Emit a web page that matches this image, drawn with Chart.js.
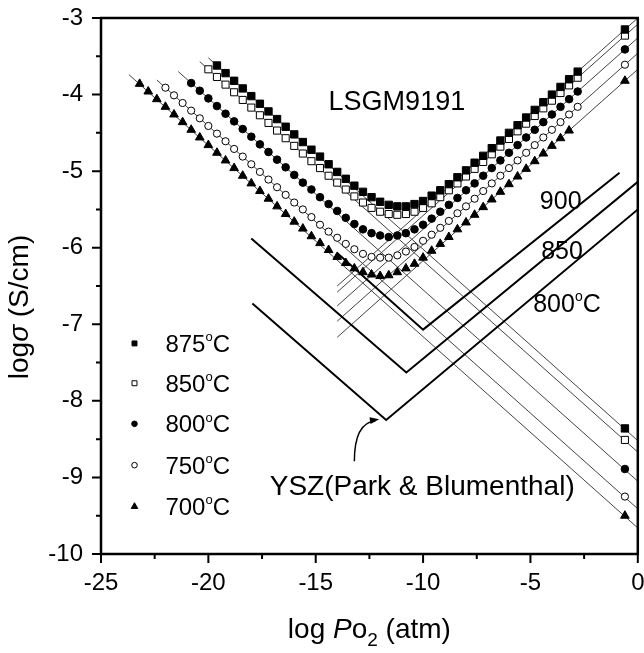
<!DOCTYPE html>
<html>
<head>
<meta charset="utf-8">
<script src="https://cdn.jsdelivr.net/npm/chart.js@4.4.1/dist/chart.umd.min.js"></script>
<style>
  body { margin: 0; background: #fff; }
  #wrap { width: 644px; height: 653px; }
</style>
</head>
<body>
<div id="wrap"><canvas id="chart1" width="644" height="653"></canvas></div>
<script>
// log Po2 grid shared by the LSGM9191 measurements
const logPo2 = [-23.2,-22.8,-22.4,-22.0,-21.6,-21.2,-20.8,-20.4,-20.0,
  -19.6,-19.2,-18.8,-18.4,-18.0,-17.6,-17.2,-16.8,-16.4,-16.0,
  -15.6,-15.2,-14.8,-14.4,-14.0,-13.6,-13.2,-12.8,-12.4,-12.0,
  -11.6,-11.2,-10.8,-10.4,-10.0,-9.6,-9.2,-8.8,-8.4,-8.0,
  -7.6,-7.2,-6.8,-6.4,-6.0,-5.6,-5.2,-4.8,-4.4,-4.0,
  -3.6,-3.2,-2.8];

// log sigma (S/cm), null = no measurement
const s875 = [null,null,null,null,null,null,null,null,null,
  -3.62,-3.72,-3.82,-3.92,-4.02,-4.12,-4.22,-4.32,-4.42,-4.52,
  -4.62,-4.72,-4.81,-4.91,-5.01,-5.10,-5.19,-5.27,-5.34,-5.40,
  -5.44,-5.46,-5.46,-5.43,-5.39,-5.32,-5.25,-5.17,-5.08,-4.99,
  -4.89,-4.80,-4.70,-4.60,-4.50,-4.40,-4.30,-4.20,-4.10,-4.00,
  -3.90,-3.80,-3.70];
const s850 = [null,null,null,null,null,null,null,null,-3.67,
  -3.77,-3.87,-3.97,-4.07,-4.17,-4.27,-4.37,-4.47,-4.57,-4.67,
  -4.77,-4.87,-4.96,-5.06,-5.15,-5.24,-5.33,-5.41,-5.48,-5.53,
  -5.56,-5.57,-5.56,-5.53,-5.48,-5.42,-5.34,-5.25,-5.16,-5.07,
  -4.97,-4.88,-4.78,-4.68,-4.58,-4.48,-4.38,-4.28,-4.18,-4.08,
  -3.98,-3.88,-3.78];
const s800 = [null,null,null,null,null,null,-3.85,-3.95,-4.05,
  -4.15,-4.25,-4.35,-4.45,-4.55,-4.65,-4.75,-4.85,-4.95,-5.05,
  -5.15,-5.24,-5.34,-5.43,-5.52,-5.61,-5.69,-5.76,-5.81,-5.84,
  -5.86,-5.84,-5.81,-5.76,-5.70,-5.62,-5.53,-5.44,-5.35,-5.25,
  -5.16,-5.06,-4.96,-4.86,-4.76,-4.66,-4.56,-4.46,-4.36,-4.26,
  -4.16,-4.06,-3.96];
const s750 = [null,null,null,-3.91,-4.01,-4.11,-4.21,-4.31,-4.41,
  -4.51,-4.61,-4.71,-4.81,-4.91,-5.01,-5.11,-5.21,-5.31,-5.41,
  -5.50,-5.60,-5.70,-5.79,-5.87,-5.95,-6.02,-6.08,-6.12,-6.13,
  -6.13,-6.10,-6.05,-5.99,-5.91,-5.83,-5.74,-5.65,-5.55,-5.46,
  -5.36,-5.26,-5.16,-5.06,-4.96,-4.86,-4.76,-4.66,-4.56,-4.46,
  -4.36,-4.26,-4.16];
const s700 = [-3.86,-3.96,-4.06,-4.16,-4.26,-4.36,-4.46,-4.56,-4.66,
  -4.76,-4.86,-4.96,-5.06,-5.16,-5.26,-5.36,-5.46,-5.56,-5.66,
  -5.75,-5.85,-5.94,-6.03,-6.12,-6.20,-6.27,-6.32,-6.35,-6.37,
  -6.36,-6.32,-6.27,-6.21,-6.13,-6.04,-5.95,-5.86,-5.76,-5.67,
  -5.57,-5.47,-5.37,-5.27,-5.17,-5.07,-4.97,-4.87,-4.77,-4.67,
  -4.57,-4.47,null];

const temps = ['875', '850', '800', '750', '700'];
const measured = [s875, s850, s800, s750, s700];

// fitted lines (slope -1/4 and +1/4), with the marker at their right end
const fitEndX = -0.6;
const fitEndHigh = [-3.15, -3.23, -3.41, -3.61, -3.82];
const fitEndLow = [-8.36, -8.51, -8.89, -9.25, -9.50];
const nFitStartX = [-20.0, -20.4, -21.4, -22.4, -23.7];
const nFitStartY = [-3.52, -3.57, -3.70, -3.81, -3.74];
const nFitEndY = [-8.52, -8.67, -9.05, -9.41, -9.66];
const pFitStartX = -14.0;
const pFitStartY = [-6.50, -6.58, -6.76, -6.96, -7.17];
const pFitEndY = [-3.00, -3.08, -3.26, -3.46, -3.67];

// YSZ (Park & Blumenthal)
const ysz900X = [-14.0, -10.0, -0.85];
const ysz900Y = [-6.07, -7.07, -5.02];
const ysz850X = [-18.0, -10.78, 0];
const ysz850Y = [-5.88, -7.63, -5.14];
const ysz800X = [-17.95, -11.72, 0];
const ysz800Y = [-6.73, -8.25, -5.50];

const FONT = 'Arial, "Liberation Sans", sans-serif';

// marker look for each temperature
const markStyle = [
  { shape: 'rect', fill: '#000', r: 5.2, lr: 3.5 },
  { shape: 'rect', fill: '#fff', r: 5.0, lr: 3.5 },
  { shape: 'circle', fill: '#000', r: 3.8, lr: 2.8 },
  { shape: 'circle', fill: '#fff', r: 3.6, lr: 2.8 },
  { shape: 'triangle', fill: '#000', r: 5.0, lr: 3.8 }
];

const datasets = [];
measured.forEach((arr, i) => {
  const pts = [];
  logPo2.forEach((x, k) => { if (arr[k] !== null) pts.push({ x: x, y: arr[k] }); });
  pts.push({ x: fitEndX, y: fitEndHigh[i] });
  pts.push({ x: fitEndX, y: fitEndLow[i] });
  datasets.push({
    label: temps[i] + '°C',
    data: pts,
    showLine: false,
    pointStyle: markStyle[i].shape,
    pointRadius: markStyle[i].r,
    pointBackgroundColor: markStyle[i].fill,
    pointBorderColor: '#000',
    pointBorderWidth: 1,
    order: 0
  });
});
measured.forEach((arr, i) => {
  datasets.push({
    data: [{ x: nFitStartX[i], y: nFitStartY[i] }, { x: 0, y: nFitEndY[i] }],
    showLine: true, pointRadius: 0, borderColor: '#444', borderWidth: 1, order: 2
  });
  datasets.push({
    data: [{ x: pFitStartX, y: pFitStartY[i] }, { x: 0, y: pFitEndY[i] }],
    showLine: true, pointRadius: 0, borderColor: '#444', borderWidth: 1, order: 2
  });
});
[[ysz900X, ysz900Y], [ysz850X, ysz850Y], [ysz800X, ysz800Y]].forEach(([xs, ys]) => {
  datasets.push({
    data: xs.map((x, k) => ({ x: x, y: ys[k] })),
    showLine: true, pointRadius: 0, borderColor: '#000', borderWidth: 2, tension: 0, order: 1
  });
});

function shape(ctx, kind, x, y, r, fill) {
  ctx.beginPath();
  if (kind === 'rect') {
    const s = r * Math.SQRT1_2;
    ctx.rect(x - s, y - s, 2 * s, 2 * s);
  } else if (kind === 'circle') {
    ctx.arc(x, y, r, 0, Math.PI * 2);
  } else {
    ctx.moveTo(x, y - r);
    ctx.lineTo(x + r * 0.866, y + r * 0.5);
    ctx.lineTo(x - r * 0.866, y + r * 0.5);
    ctx.closePath();
  }
  ctx.fillStyle = fill;
  ctx.fill();
  ctx.strokeStyle = '#000';
  ctx.lineWidth = 1;
  ctx.stroke();
}

// draw pieces of text with different fonts one after another
function runs(ctx, parts, x, y, align) {
  let total = 0;
  parts.forEach(p => { ctx.font = p.f; p.w = ctx.measureText(p.t).width; total += p.w; });
  let cx = align === 'center' ? x - total / 2 : x;
  ctx.textAlign = 'left';
  ctx.textBaseline = 'alphabetic';
  parts.forEach(p => { ctx.font = p.f; ctx.fillText(p.t, cx, y + (p.dy || 0)); cx += p.w; });
}

function degree(num, size) {
  return [
    { t: num, f: size + 'px ' + FONT },
    { t: 'o', f: Math.round(size * 0.55) + 'px ' + FONT, dy: -size * 0.45 },
    { t: 'C', f: size + 'px ' + FONT }
  ];
}

const decor = {
  id: 'decor',
  afterDraw(chart) {
    const { ctx, chartArea: a } = chart;
    const xs = chart.scales.x, ys = chart.scales.y;
    const X = v => xs.getPixelForValue(v), Y = v => ys.getPixelForValue(v);
    ctx.save();

    // frame and ticks
    ctx.strokeStyle = '#000';
    ctx.lineWidth = 2.5;
    ctx.strokeRect(a.left, a.top, a.right - a.left, a.bottom - a.top);
    ctx.lineWidth = 2;
    ctx.beginPath();
    xs.ticks.forEach(t => {
      const p = X(t.value), len = t.value % 5 === 0 ? 9 : 5;
      ctx.moveTo(p, a.bottom); ctx.lineTo(p, a.bottom + len);
    });
    ys.ticks.forEach(t => {
      const p = Y(t.value), len = Number.isInteger(t.value) ? 9 : 5;
      ctx.moveTo(a.left, p); ctx.lineTo(a.left - len, p);
    });
    ctx.stroke();

    ctx.fillStyle = '#000';
    // axis titles
    runs(ctx, [
      { t: 'log ', f: '28px ' + FONT },
      { t: 'P', f: 'italic 28px ' + FONT },
      { t: 'o', f: '28px ' + FONT },
      { t: '2', f: '19px ' + FONT, dy: 8 },
      { t: ' (atm)', f: '28px ' + FONT }
    ], (a.left + a.right) / 2, 638, 'center');
    ctx.save();
    ctx.translate(28, 307);
    ctx.rotate(-Math.PI / 2);
    runs(ctx, [
      { t: 'log', f: '28px ' + FONT },
      { t: 'σ', f: 'italic 28px ' + FONT },
      { t: ' (S/cm)', f: '28px ' + FONT }
    ], 0, 0, 'center');
    ctx.restore();

    // labels in the plot
    runs(ctx, [{ t: 'LSGM9191', f: '27px ' + FONT }], X(-11.22), Y(-4.07) + 10, 'center');
    runs(ctx, [{ t: '900', f: '25px ' + FONT }], X(-3.59), Y(-5.38) + 9, 'center');
    runs(ctx, [{ t: '850', f: '25px ' + FONT }], X(-3.53), Y(-6.03) + 9, 'center');
    runs(ctx, degree('800', 25), X(-3.3), Y(-6.72) + 9, 'center');
    runs(ctx, [{ t: 'YSZ(Park & Blumenthal)', f: '28px ' + FONT }], X(-10.04), Y(-9.10) + 10, 'center');

    // arrow to the YSZ curves
    const t0 = [X(-13.2), Y(-8.79)], c0 = [X(-13.2), Y(-8.29)], t1 = [X(-12.04), Y(-8.24)];
    ctx.strokeStyle = '#000';
    ctx.lineWidth = 1.5;
    ctx.beginPath();
    ctx.moveTo(t0[0], t0[1]);
    ctx.quadraticCurveTo(c0[0], c0[1], t1[0] - 4, t1[1] + 1.5);
    ctx.stroke();
    const ang = Math.atan2(t1[1] - c0[1], t1[0] - c0[0]);
    ctx.beginPath();
    ctx.moveTo(t1[0], t1[1]);
    ctx.lineTo(t1[0] - 10 * Math.cos(ang - 0.35), t1[1] - 10 * Math.sin(ang - 0.35));
    ctx.lineTo(t1[0] - 10 * Math.cos(ang + 0.35), t1[1] - 10 * Math.sin(ang + 0.35));
    ctx.closePath();
    ctx.fill();

    // legend
    const legendRows = [-7.25, -7.77, -8.30, -8.84, -9.38];
    temps.forEach((t, i) => {
      const yy = Y(legendRows[i]);
      shape(ctx, markStyle[i].shape, X(-23.44), yy, markStyle[i].lr, markStyle[i].fill);
      ctx.fillStyle = '#000';
      runs(ctx, degree(t, 24), X(-22.0), yy + 8.5, 'left');
    });
    ctx.restore();
  }
};

new Chart(document.getElementById('chart1').getContext('2d'), {
  type: 'scatter',
  data: { datasets: datasets },
  options: {
    responsive: false,
    animation: false,
    devicePixelRatio: 1,
    layout: { padding: { top: 18, right: 5, left: 0, bottom: 0 } },
    plugins: { legend: { display: false }, tooltip: { enabled: false } },
    scales: {
      x: {
        type: 'linear', min: -25, max: 0,
        afterFit: s => { s.height = 99; s.paddingLeft = 0; s.paddingRight = 0; },
        ticks: {
          stepSize: 2.5, autoSkip: false, maxRotation: 0, padding: 15, color: '#000',
          font: { family: FONT, size: 24 },
          callback: v => (v % 5 === 0 ? String(v) : '')
        },
        grid: { display: false, drawTicks: false },
        border: { display: false }
      },
      y: {
        min: -10, max: -3,
        afterFit: s => { s.width = 101; s.paddingTop = 0; s.paddingBottom = 0; },
        ticks: {
          stepSize: 0.5, autoSkip: false, padding: 18, color: '#000',
          font: { family: FONT, size: 24 },
          callback: v => (Number.isInteger(v) ? String(v) : '')
        },
        grid: { display: false, drawTicks: false },
        border: { display: false }
      }
    }
  },
  plugins: [decor]
});
</script>
</body>
</html>
